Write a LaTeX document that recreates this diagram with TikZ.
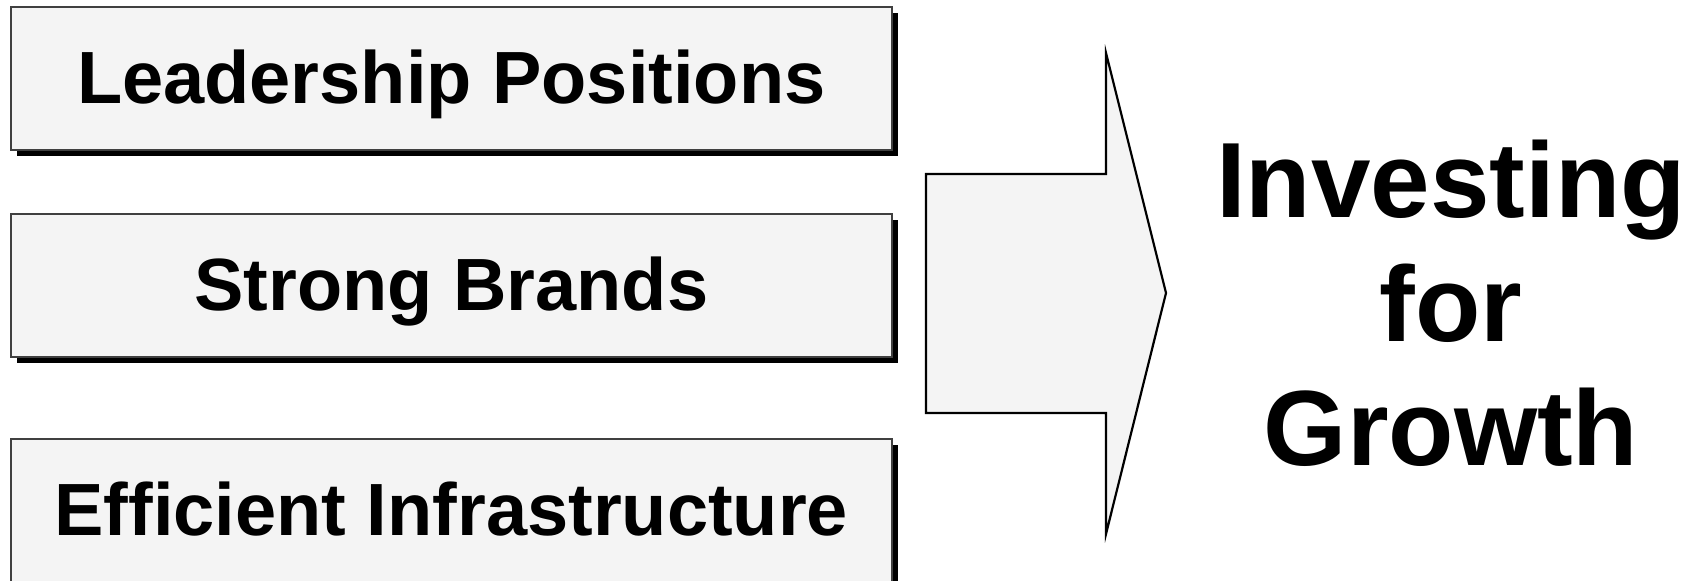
\documentclass[tikz,border=0pt]{standalone}
\usepackage{fontspec}
\setmainfont{Liberation Sans}
\usetikzlibrary{shadows}
\definecolor{panelfill}{HTML}{F4F4F4}
\definecolor{panelline}{HTML}{404040}
\begin{document}
\begin{tikzpicture}[x=1pt, y=-1pt,
  pillar/.style={draw=panelline, line width=1.6pt, fill=panelfill,
    minimum width=881pt, minimum height=143pt, inner sep=0pt,
    anchor=north west, text height=53pt, text depth=3pt,
    font=\fontsize{74}{80}\selectfont\bfseries,
    drop shadow={shadow xshift=6.5pt, shadow yshift=-6.5pt, opacity=1, fill=black}},
  bigarrow/.style={draw=black, line width=2.2pt, fill=panelfill, line join=miter},
  goal/.style={align=center, inner sep=0pt, anchor=base,
    font=\fontsize{107}{124}\selectfont\bfseries}]
  \useasboundingbox (0,0) rectangle (1703,581);
  \clip (0,0) rectangle (1703,581);

  % three pillars
  \node[pillar] (lead)   at (10,6)   {Leadership Positions};
  \node[pillar] (brands) at (10,213) {Strong Brands};
  \node[pillar] (infra)  at (10,438) {Efficient Infrastructure};

  % block arrow pointing to the goal
  \coordinate (tail) at (926,293);
  \coordinate (tip)  at (1166,293);
  \draw[bigarrow] (926,174) -- (1106,174) -- (1106,53) -- (tip)
    -- (1106,534) -- (1106,413) -- (926,413) -- cycle;

  % goal (anchored on the baseline of its last line)
  \node[goal] (growth) at (1451,465) {Investing\\for\\Growth};
\end{tikzpicture}
\end{document}
